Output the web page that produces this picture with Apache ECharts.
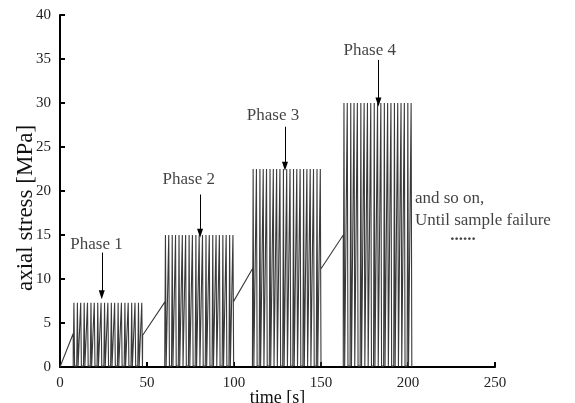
<!DOCTYPE html>
<html>
<head>
<meta charset="utf-8">
<script src="https://cdn.jsdelivr.net/npm/echarts@6/dist/echarts.min.js"></script>
<style>html,body{margin:0;padding:0;background:#fff}#c{width:575px;height:403px}</style>
</head>
<body>
<div id="c"></div>
<script>
// ---- data ----
const xTicks = [0, 50, 100, 150, 200, 250];
const yTicks = [0, 5, 10, 15, 20, 25, 30, 35, 40];
const phaseNames = ['Phase 1', 'Phase 2', 'Phase 3', 'Phase 4'];
const phasePeak = [7.3, 15.0, 22.5, 30.0];   // MPa, top of cycles
const phaseBase = [0.1, 0.1, 0.1, 0.1];       // MPa, bottom of cycles
// ramps [tStart, sStart, tEnd, sEnd]
const ramps = [
  [0, 0, 7.6, 3.8],
  [47.5, 3.6, 60.3, 7.4],
  [99.6, 7.4, 110.7, 11.2],
  [149.8, 11.1, 162.8, 15.0]
];
// spike (peak) times in each phase, s
const phase1Times = [8.0, 10.0, 11.9, 13.9, 15.8, 17.8, 19.7, 21.7, 23.6, 25.6, 27.5, 29.5, 31.4, 33.4, 35.3, 37.3, 39.2, 41.2, 43.1, 45.1, 47.0];
const phase2Times = [60.6, 62.5, 64.5, 66.4, 68.4, 70.3, 72.2, 74.2, 76.1, 78.1, 80.0, 81.9, 83.9, 85.8, 87.8, 89.7, 91.6, 93.6, 95.5, 97.5, 99.4];
const phase3Times = [111.0, 112.9, 114.9, 116.8, 118.7, 120.7, 122.6, 124.5, 126.4, 128.4, 130.3, 132.2, 134.2, 136.1, 138.0, 140.0, 141.9, 143.8, 145.7, 147.7, 149.6];
const phase4Times = [163.2, 165.1, 167.1, 169.0, 170.9, 172.9, 174.8, 176.7, 178.6, 180.6, 182.5, 184.4, 186.4, 188.3, 190.2, 192.2, 194.1, 196.0, 197.9, 199.9, 201.8];
const endPoint = [202.1, 0];
// annotation positions (data units)
const labelX = [21, 74, 122.4, 178];
const labelY = [13.9, 21.3, 28.6, 36.0];
const arrowX = [24, 80.5, 129.3, 183];
const arrowFrom = [13.0, 19.6, 27.3, 34.9];
const arrowTo = [8.2, 15.2, 22.8, 30.1];
const noteLines = ['and so on,', 'Until sample failure'];
const noteX = 204;
const noteY = [19.2, 16.7];
const dotsPos = [231.6, 14.9];

// ---- build the trace ----
const phaseTimes = [phase1Times, phase2Times, phase3Times, phase4Times];
const hw = 0.4; // half width of a spike (s)
const trace = [];
for (let p = 0; p < 4; p++) {
  const r = ramps[p];
  trace.push([r[0], r[1]]);
  trace.push([r[2], r[3]]);
  phaseTimes[p].forEach(t => {
    trace.push([t - hw, phaseBase[p]]);
    trace.push([t, phasePeak[p]]);
    trace.push([t + hw, phaseBase[p]]);
  });
}
trace.push(endPoint);

const font = 'Liberation Serif';
const chart = echarts.init(document.getElementById('c'), null, {renderer: 'canvas'});

const labelData = phaseNames.map((n, i) => ({value: [labelX[i], labelY[i]], label: {formatter: n, align: 'center', verticalAlign: 'middle'}}));
noteLines.forEach((n, i) => labelData.push({value: [noteX, noteY[i]], label: {formatter: n, align: 'left', verticalAlign: 'middle'}}));
labelData.push({value: dotsPos, label: {formatter: '......', align: 'center', verticalAlign: 'middle', fontWeight: 'bold', fontSize: 17}});

chart.setOption({
  animation: false,
  backgroundColor: '#fff',
  grid: {left: 60, right: 80, top: 15, bottom: 36, containLabel: false, outerBoundsMode: 'none'},
  graphic: [{
    type: 'text', x: 26, y: 208, rotation: Math.PI / 2, silent: true,
    style: {text: 'axial stress [MPa]', fontFamily: font, fontSize: 23, fill: '#111', align: 'center', verticalAlign: 'middle'}
  }],
  xAxis: {
    type: 'value', min: xTicks[0], max: xTicks[xTicks.length - 1], interval: 50,
    name: 'time [s]', nameLocation: 'middle', nameGap: 22, nameMoveOverlap: false,
    nameTextStyle: {fontFamily: font, fontSize: 18, color: '#111', verticalAlign: 'top'},
    axisLine: {lineStyle: {color: '#000', width: 2}},
    axisTick: {inside: true, length: 5, lineStyle: {color: '#000', width: 2}},
    axisLabel: {fontFamily: font, fontSize: 15, color: '#222', margin: 9},
    splitLine: {show: false}
  },
  yAxis: {
    type: 'value', min: yTicks[0], max: yTicks[yTicks.length - 1], interval: 5,
    axisLine: {lineStyle: {color: '#000', width: 2}},
    axisTick: {inside: true, length: 5, lineStyle: {color: '#000', width: 2}},
    axisLabel: {fontFamily: font, fontSize: 15, color: '#222', margin: 9},
    splitLine: {show: false}
  },
  series: [
    {
      type: 'line', data: trace, showSymbol: false, symbol: 'none',
      lineStyle: {color: '#3a3a3a', width: 1.1}, clip: false,
      markLine: {
        silent: true, symbol: ['none', 'triangle'], symbolSize: [6, 9],
        lineStyle: {color: '#000', width: 1, type: 'solid'},
        label: {show: false},
        data: arrowX.map((x, i) => [{coord: [x, arrowFrom[i]]}, {coord: [x, arrowTo[i]]}])
      }
    },
    {
      type: 'scatter', data: labelData, symbolSize: 0, silent: true,
      label: {show: true, position: 'inside', fontFamily: font, fontSize: 17, color: '#111'}
    }
  ]
});
</script>
</body>
</html>
